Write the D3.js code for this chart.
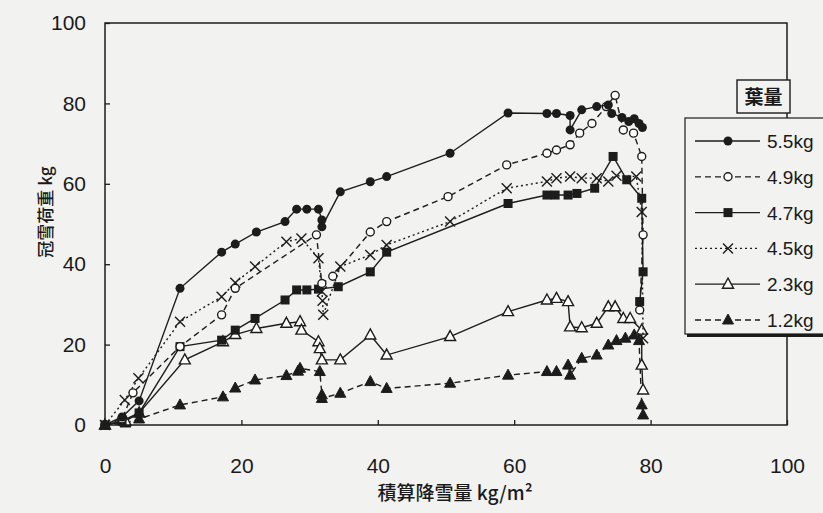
<!DOCTYPE html>
<html>
<head>
<meta charset="utf-8">
<script src="https://cdnjs.cloudflare.com/ajax/libs/d3/7.8.5/d3.min.js"></script>
<style>
  body { margin: 0; background: #f2f2f1; }
  svg { display: block; }
  text { fill: #1a1a1a; }
</style>
</head>
<body>
<svg width="823" height="513"></svg>
<script>
// series values [積算降雪量, 冠雪荷重]
const s55 = [[0,0],[2.5,2],[5,6],[11,34],[17.1,43],[19.1,45],[22.2,48],[26.4,50.6],[28.1,53.7],[29.6,53.7],[31.3,53.7],[31.8,51],[31.8,49.3],[34.5,58],[38.9,60.5],[41.3,61.8],[50.6,67.6],[59.1,77.6],[64.8,77.5],[66.2,77.5],[68.2,77],[68.2,73.4],[69.9,78.4],[72.1,79.2],[73.8,79.6],[74.3,77.5],[75.8,76.5],[76.8,75.5],[77.6,76.2],[78.3,75],[78.8,74]];
const s49 = [[0,0],[2.5,1.5],[4.1,8],[11,19.5],[17.1,27.4],[19.1,34],[31,47.3],[31.8,35.2],[33.4,37],[38.9,48],[41.3,50.6],[50.3,56.8],[58.9,64.7],[64.8,67.6],[66.2,68.4],[68.2,69.7],[69.6,72.6],[71.4,75],[73.5,79.2],[74.8,82],[76,73.4],[77.5,72.6],[78.7,66.8],[78.9,47.3],[78.4,28.6]];
const s47 = [[0,0],[2.5,1],[5,3],[11,19.5],[17.1,21.1],[19.1,23.6],[22,26.5],[26.4,31.1],[28.1,33.6],[29.6,33.6],[31.3,33.8],[34.2,34.4],[38.9,38.1],[41.3,43],[59.1,55.1],[64.8,57.2],[66,57.2],[67.9,57.2],[69.2,57.6],[71.8,58.9],[74.5,66.8],[76.5,61],[78.7,56.4],[78.9,38.1],[78.4,30.7]];
const s45 = [[0,0],[2.9,6.2],[4.9,11.6],[11,25.7],[17.1,31.9],[19.1,35.4],[22,39.4],[26.6,45.6],[28.8,46.4],[31.3,41.5],[31.8,33.2],[31.9,30.9],[32,27.4],[34.5,39.4],[38.9,42.3],[41.3,44.8],[50.6,50.6],[58.9,58.9],[64.8,60.6],[66.2,61.4],[68.2,61.8],[69.9,61.4],[72.1,61.4],[73.8,60.6],[75,62],[77.9,61.8],[78.7,53],[78.9,21.6]];
const s23 = [[0,0],[3,1],[5,3],[11.7,16.2],[17.3,20.7],[19.1,22.5],[22.2,24],[26.6,25.3],[28.6,25.7],[28.8,23.6],[31.3,20.7],[31.5,19],[31.8,16.2],[34.5,16.2],[38.9,22.4],[41.3,17.4],[50.6,22],[59.1,28.2],[64.8,31.1],[66.2,31.5],[67.9,30.7],[68.2,24.4],[69.9,24.2],[72.1,25.3],[73.8,29.4],[74.8,29.4],[76,26.5],[77,26.5],[78.7,23.6],[78.7,14.9],[78.9,8.7]];
const s12 = [[0,0],[3,0.5],[5,1.5],[11,5],[17.3,7],[19.1,9.2],[22,11.2],[26.6,12.3],[28.3,13.4],[28.6,14.1],[31.5,13.3],[31.8,7.5],[31.8,6.6],[34.5,7.9],[38.9,10.8],[41.3,9.1],[50.6,10.4],[59.1,12.4],[64.8,13.3],[66.2,13.3],[67.9,14.9],[68.2,12.4],[69.9,16.6],[72.1,17.4],[73.8,19.9],[75,21],[76.3,21.6],[77.6,22.4],[78.3,21],[78.7,5],[78.9,2.5]];

const seriesNames = ["5.5kg", "4.9kg", "4.7kg", "4.5kg", "2.3kg", "1.2kg"];
const seriesValues = [s55, s49, s47, s45, s23, s12];
const xTicks = [0, 20, 40, 60, 80, 100];
const yTicks = [0, 20, 40, 60, 80, 100];
const legendTitle = "葉量";
const xLabel = "積算降雪量 kg/m²";
const yLabel = "冠雪荷重 kg";

const ink = "#1c1c1c";
const bg = "#f2f2f1";
const dashes = ["none", "6,4", "none", "2,3", "none", "6,4"];
const shapes = ["dot", "ring", "square", "cross", "tri", "tri-fill"];

const svg = d3.select("svg");
const x = d3.scaleLinear().domain([0, 100]).range([105, 787]);
const y = d3.scaleLinear().domain([0, 100]).range([425, 23]);

// frame
svg.append("rect")
  .attr("x", x(0)).attr("y", y(100))
  .attr("width", x(100) - x(0)).attr("height", y(0) - y(100))
  .attr("fill", "none").attr("stroke", ink).attr("stroke-width", 1.5);

const axisFont = "'Liberation Sans', Arial, sans-serif";

const yAxis = svg.append("g")
  .attr("transform", `translate(${x(0)},0)`)
  .call(d3.axisLeft(y).tickValues(yTicks).tickSizeInner(-5).tickSizeOuter(0).tickPadding(19));
const xAxis = svg.append("g")
  .attr("transform", `translate(0,${y(0)})`)
  .call(d3.axisBottom(x).tickValues(xTicks).tickSizeInner(-5).tickSizeOuter(0).tickPadding(33));

[xAxis, yAxis].forEach((g) => {
  g.select(".domain").remove();
  g.selectAll("line").attr("stroke", ink).attr("stroke-width", 1.3);
  g.selectAll("text")
    .attr("fill", ink)
    .style("font-family", axisFont)
    .style("font-size", "21px");
});

svg.append("text")
  .attr("x", 455).attr("y", 500)
  .attr("text-anchor", "middle")
  .style("font-family", "'Noto Sans CJK JP', sans-serif")
  .style("font-size", "19px")
  .style("font-weight", 500)
  .text(xLabel);

svg.append("text")
  .attr("transform", `translate(52,212) rotate(-90)`)
  .attr("text-anchor", "middle")
  .style("font-family", "'Noto Sans CJK JP', sans-serif")
  .style("font-size", "17px")
  .style("font-weight", 500)
  .text(yLabel);

// markers
function drawMarker(g, shape, cx, cy) {
  if (shape === "dot") {
    g.append("circle").attr("cx", cx).attr("cy", cy).attr("r", 4.5).attr("fill", ink);
  } else if (shape === "ring") {
    g.append("circle").attr("cx", cx).attr("cy", cy).attr("r", 4)
      .attr("fill", "#fff").attr("stroke", ink).attr("stroke-width", 1.4);
  } else if (shape === "square") {
    g.append("rect").attr("x", cx - 4.5).attr("y", cy - 4.5).attr("width", 9).attr("height", 9).attr("fill", ink);
  } else if (shape === "cross") {
    g.append("path").attr("d", `M${cx - 5},${cy - 5}L${cx + 5},${cy + 5}M${cx - 5},${cy + 5}L${cx + 5},${cy - 5}`)
      .attr("stroke", ink).attr("stroke-width", 1.4).attr("fill", "none");
  } else {
    const filled = shape === "tri-fill";
    g.append("path").attr("d", `M${cx},${cy - 6}L${cx + 5.5},${cy + 4}L${cx - 5.5},${cy + 4}Z`)
      .attr("fill", filled ? ink : "#fff").attr("stroke", ink).attr("stroke-width", filled ? 1 : 1.4);
  }
}

const line = d3.line().x((d) => x(d[0])).y((d) => y(d[1]));

// draw lowest series first
for (let i = seriesValues.length - 1; i >= 0; i--) {
  const g = svg.append("g");
  g.append("path")
    .attr("d", line(seriesValues[i]))
    .attr("fill", "none")
    .attr("stroke", ink)
    .attr("stroke-width", 1.4)
    .attr("stroke-dasharray", dashes[i]);
  seriesValues[i].forEach((d) => drawMarker(g, shapes[i], x(d[0]), y(d[1])));
}

// legend
const lg = svg.append("g");
lg.append("rect").attr("x", 687).attr("y", 120).attr("width", 150).attr("height", 217).attr("fill", ink);
lg.append("rect").attr("x", 685).attr("y", 118).attr("width", 150).attr("height", 216)
  .attr("fill", bg).attr("stroke", ink).attr("stroke-width", 1.2);

const rowY = d3.scaleLinear().domain([0, 5]).range([141, 320]);
seriesNames.forEach((name, i) => {
  const cy = rowY(i);
  lg.append("line").attr("x1", 695).attr("x2", 760).attr("y1", cy).attr("y2", cy)
    .attr("stroke", ink).attr("stroke-width", 1.3).attr("stroke-dasharray", dashes[i]);
  drawMarker(lg, shapes[i], 728, cy);
  lg.append("text").attr("x", 767).attr("y", cy + 7)
    .style("font-family", axisFont).style("font-size", "19px").text(name);
});

svg.append("rect").attr("x", 737).attr("y", 80).attr("width", 53).attr("height", 33)
  .attr("fill", bg).attr("stroke", ink).attr("stroke-width", 1.4);
svg.append("text").attr("x", 763.5).attr("y", 104).attr("text-anchor", "middle")
  .style("font-family", "'Noto Sans CJK JP', sans-serif")
  .style("font-size", "19px").style("font-weight", 700)
  .text(legendTitle);
</script>
</body>
</html>
